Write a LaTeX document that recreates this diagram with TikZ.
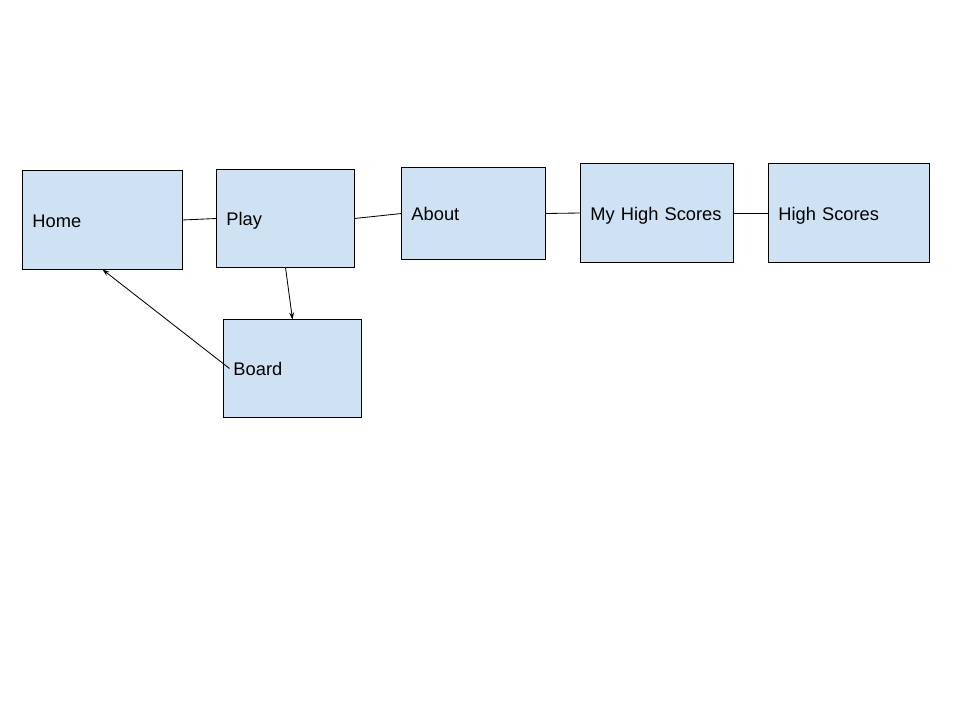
\documentclass[tikz,border=0pt]{standalone}
\usepackage{fontspec}
\setmainfont{Liberation Sans}
\usetikzlibrary{arrows.meta}
\definecolor{boxblue}{HTML}{CFE2F3}
\begin{document}
\begin{tikzpicture}[x=0.025cm, y=-0.025cm, line width=0.7pt,
	every node/.style={font=\fontsize{13}{15}\selectfont},
	screen/.style={draw=black, fill=boxblue, inner xsep=0.2375cm, inner ysep=0pt, align=left, text height=1em, text depth=0pt},
	link/.style={draw=black, line width=0.6pt},
	goto/.style={link, -{Stealth[length=5pt,width=3.5pt]}}]
	\useasboundingbox (0,0) rectangle (960,720);
	\draw
	node[screen, text width=3.5cm, minimum height=2.45cm](Home)at(102.5,220){Home}
	node[screen, text width=2.95cm, minimum height=2.425cm](Play)at(285.5,218.5){Play}
	node[screen, text width=3.1cm, minimum height=2.275cm](About)at(473.5,213.5){About}
	node[screen, text width=3.325cm, minimum height=2.45cm](MyScores)at(657,213){My High Scores}
	node[screen, text width=3.525cm, minimum height=2.45cm](Scores)at(849,213){High Scores}
	node[screen, text width=2.95cm, minimum height=2.425cm](Board)at(292.5,368.5){Board};
	
	\draw[link](Home.east)--(Play.west);
	\draw[link](Play.east)--(About.west);
	\draw[link](About.east)--(MyScores.west);
	\draw[link](MyScores.east)--(Scores.west);
	\draw[goto](Play.south)--(Board.north);
	\draw[goto]([xshift=0.15cm]Board.west)--(Home.south);
\end{tikzpicture}
\end{document}
